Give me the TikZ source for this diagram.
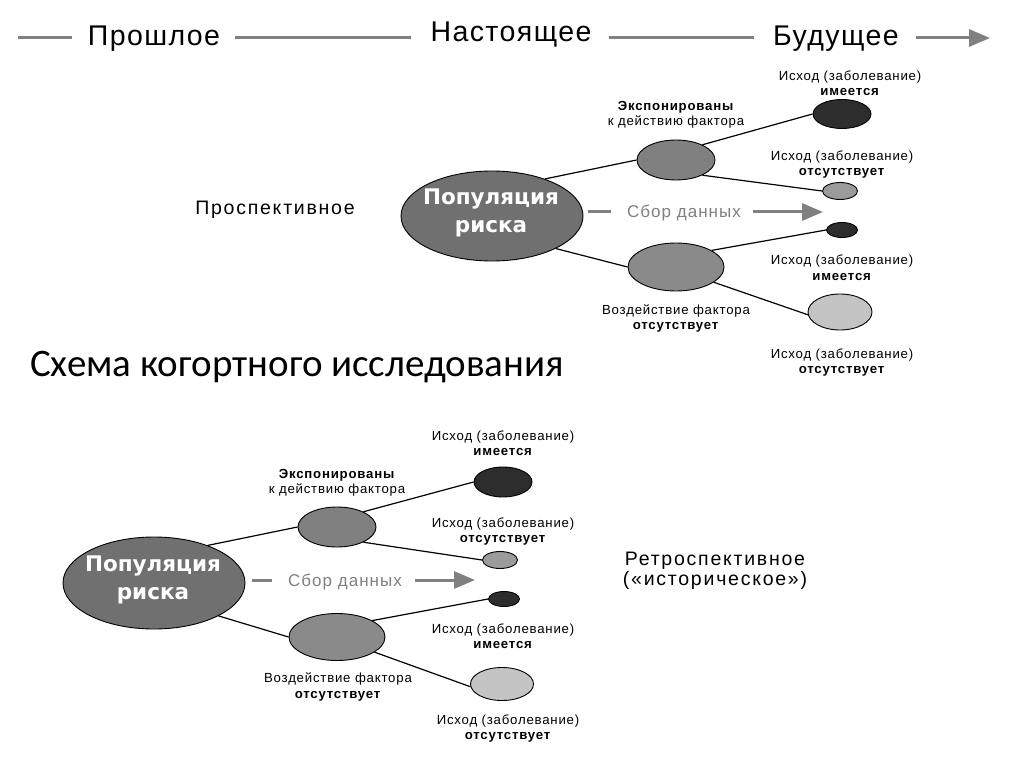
\documentclass[tikz,border=0pt]{standalone}
\usepackage{fontspec}
\setmainfont{Liberation Sans}
\newfontfamily\calfont{Carlito}
\newfontfamily\dvfont{DejaVu Sans}
\newfontfamily\lsfont[LetterSpace=6]{Liberation Sans}
\newfontfamily\tlfont[LetterSpace=5]{Liberation Sans}
\newfontfamily\psfont[LetterSpace=9]{Liberation Sans}
\usetikzlibrary{shapes.geometric,arrows.meta}
\definecolor{popfill}{RGB}{112,112,112}
\definecolor{expfill}{RGB}{128,128,128}
\definecolor{unexpfill}{RGB}{138,138,138}
\definecolor{darkfill}{RGB}{45,45,45}
\definecolor{lightfill}{RGB}{155,155,155}
\definecolor{palefill}{RGB}{196,196,196}
\definecolor{linegray}{RGB}{128,128,128}
\tikzset{
  ell/.style={ellipse, draw=black, line width=0.9pt, inner sep=0pt},
  poptxt/.style={font=\dvfont\bfseries\fontsize{21.5}{28}\selectfont, text=white, align=center, inner sep=0pt},
  lab/.style={font=\lsfont\fontsize{13.2}{15.5}\selectfont, align=center, inner sep=0pt},
  conn/.style={line width=1.2pt, draw=black},
  tltext/.style={font=\tlfont\fontsize{28.5}{30}\selectfont, inner sep=0pt, anchor=base},
  grayline/.style={draw=linegray, line width=3pt},
  graytip/.style={-{Triangle[length=21pt,width=17pt]}},
  collect/.style={font=\lsfont\fontsize{17}{20}\selectfont, text=linegray, inner sep=0pt},
  kind/.style={font=\psfont\fontsize{19.5}{19.5}\selectfont, align=center, inner sep=0pt},
}
\begin{document}
\begin{tikzpicture}[x=1pt,y=-1pt]
\fill[white] (0,0) rectangle (1024,767);
\useasboundingbox (0,0) rectangle (1024,767);

% ---------- timeline ----------
\node[tltext] (past) at (154,46) {Прошлое};
\node[tltext] (now) at (511,42) {Настоящее};
\node[tltext] (fut) at (836,46) {Будущее};
\coordinate (t0) at (18,38);
\coordinate (t1) at (72,38);
\coordinate (t2) at (235,38);
\coordinate (t3) at (411,38);
\coordinate (t4) at (609,38);
\coordinate (t5) at (754,38);
\coordinate (t6) at (916,38);
\coordinate (t7) at (990,38);
\draw[grayline] (t0) -- (t1);
\draw[grayline] (t2) -- (t3);
\draw[grayline] (t4) -- (t5);
\draw[grayline, graytip] (t6) -- (t7);

% ---------- prospective ----------
\node[kind] (pros) at (275,210) {Проспективное};
\node[ell, fill=popfill, minimum width=182pt, minimum height=90pt] (pA) at (492,216) {};
\node[poptxt] (pAt) at (491,213) {Популяция\\риска};
\node[ell, fill=expfill, minimum width=78pt, minimum height=40pt] (eA) at (676,160) {};
\node[ell, fill=unexpfill, minimum width=96pt, minimum height=48pt] (uA) at (676,267) {};
\node[ell, fill=darkfill, minimum width=58pt, minimum height=29pt] (oA1) at (842,114) {};
\node[ell, fill=lightfill, minimum width=35pt, minimum height=17pt] (oA2) at (840,191) {};
\node[ell, fill=darkfill, minimum width=31pt, minimum height=15pt] (oA3) at (842,230) {};
\node[ell, fill=palefill, minimum width=64pt, minimum height=36pt] (oA4) at (840,312) {};
\draw[conn] (pA.35) -- (eA.180);
\draw[conn] (pA.-27) -- (uA.180);
\draw[conn] (eA.30) -- (oA1.180);
\draw[conn] (eA.-30) -- (oA2.180);
\draw[conn] (uA.25) -- (oA3.180);
\draw[conn] (uA.-22) -- (oA4.185);
\node[lab] (eAl) at (676,115) {\textbf{Экспонированы}\\к действию фактора};
\node[lab] (uAl) at (676,318.5) {Воздействие фактора\\\textbf{отсутствует}};
\node[lab] (oA1l) at (850,83) {Исход (заболевание)\\\textbf{имеется}};
\node[lab] (oA2l) at (842,164.5) {Исход (заболевание)\\\textbf{отсутствует}};
\node[lab] (oA3l) at (842,267.5) {Исход (заболевание)\\\textbf{имеется}};
\node[lab] (oA4l) at (842,362.5) {Исход (заболевание)\\\textbf{отсутствует}};
\node[collect] (cA) at (684,213) {Сбор данных};
\coordinate (cA0) at (588,212);
\coordinate (cA1) at (611,212);
\coordinate (cA2) at (753,212);
\coordinate (cA3) at (823,212);
\draw[grayline] (cA0) -- (cA1);
\draw[grayline, graytip] (cA2) -- (cA3);

% ---------- title ----------
\node[font=\calfont\fontsize{39}{40}\selectfont, inner sep=0pt] (title) at (297,367) {Схема когортного исследования};

% ---------- retrospective ----------
\node[kind] (retro) at (715,571) {Ретроспективное\\(«историческое»)};
\node[ell, fill=popfill, minimum width=182pt, minimum height=92pt] (pB) at (154,583) {};
\node[poptxt] (pBt) at (153,580) {Популяция\\риска};
\node[ell, fill=expfill, minimum width=78pt, minimum height=40pt] (eB) at (337,527) {};
\node[ell, fill=unexpfill, minimum width=96pt, minimum height=47pt] (uB) at (337,637) {};
\node[ell, fill=darkfill, minimum width=58pt, minimum height=30pt] (oB1) at (503,482) {};
\node[ell, fill=lightfill, minimum width=35pt, minimum height=17pt] (oB2) at (500,560) {};
\node[ell, fill=darkfill, minimum width=31pt, minimum height=15pt] (oB3) at (504,599) {};
\node[ell, fill=palefill, minimum width=63pt, minimum height=33pt] (oB4) at (502,684) {};
\draw[conn] (pB.35) -- (eB.180);
\draw[conn] (pB.-27) -- (uB.180);
\draw[conn] (eB.30) -- (oB1.180);
\draw[conn] (eB.-30) -- (oB2.180);
\draw[conn] (uB.25) -- (oB3.180);
\draw[conn] (uB.-22) -- (oB4.185);
\node[lab] (eBl) at (337,483) {\textbf{Экспонированы}\\к действию фактора};
\node[lab] (uBl) at (338,687) {Воздействие фактора\\\textbf{отсутствует}};
\node[lab] (oB1l) at (503,443) {Исход (заболевание)\\\textbf{имеется}};
\node[lab] (oB2l) at (503,531.5) {Исход (заболевание)\\\textbf{отсутствует}};
\node[lab] (oB3l) at (503,636) {Исход (заболевание)\\\textbf{имеется}};
\node[lab] (oB4l) at (508,728.5) {Исход (заболевание)\\\textbf{отсутствует}};
\node[collect] (cB) at (345,582) {Сбор данных};
\coordinate (cB0) at (252,580);
\coordinate (cB1) at (272,580);
\coordinate (cB2) at (415,580);
\coordinate (cB3) at (475,580);
\draw[grayline] (cB0) -- (cB1);
\draw[grayline, graytip] (cB2) -- (cB3);
\end{tikzpicture}
\end{document}
